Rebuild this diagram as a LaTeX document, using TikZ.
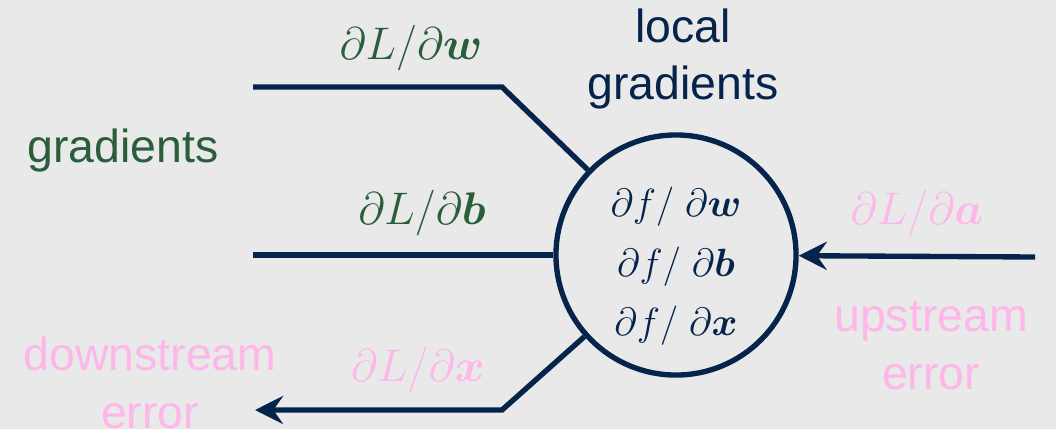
\RequirePackage{fix-cm}
\documentclass[tikz,border=0pt]{standalone}
\usepackage{amsmath,amssymb}
\usepackage{bm}
\usepackage{fontspec}
\setmainfont{Liberation Sans}
\usepackage{tikz}
\usetikzlibrary{positioning,arrows.meta}
\definecolor{navy}{RGB}{5,36,76}
\definecolor{gradgreen}{RGB}{42,94,58}
\definecolor{errpink}{RGB}{255,182,232}
\definecolor{slide}{RGB}{233,233,233}
\tikzset{
  wire/.style={draw=navy, line width=3.8pt},
  backarrow/.style={wire, -{Stealth[length=20pt,width=20pt,inset=7pt]}},
  gatenode/.style={circle, draw=navy, line width=3.8pt, minimum size=6cm, inner sep=0pt},
  word/.style={font=\fontsize{33}{41}\selectfont, align=center},
  deriv/.style={font=\fontsize{32.5}{38}\selectfont},
  localderiv/.style={font=\fontsize{28}{34}\selectfont, text=navy},
}

\begin{document}
\begin{tikzpicture}[x=0.025cm, y=-0.025cm]
  \fill[slide] (0,0) rectangle (1056,429);
  \useasboundingbox (0,0) rectangle (1056,429);

  % the gate and its local derivatives
  \node[gatenode] (gate) at (676,255) {};
  \node[localderiv] (dfdw) at (676,207) {$\partial f/\;\partial\bm{w}$};
  \node[localderiv] (dfdb) at (676,267) {$\partial f/\;\partial\bm{b}$};
  \node[localderiv] (dfdx) at (676,326) {$\partial f/\;\partial\bm{x}$};

  % wire ends
  \coordinate (win)   at (253,87);
  \coordinate (wbend) at (502,87);
  \coordinate (bin)   at (253,255);
  \coordinate (xbend) at (502,410);
  \coordinate (xout)  at (255,410);
  \coordinate (ain)   at (1035,257);

  \draw[wire] (win) -- (wbend) -- (gate);
  \draw[wire] (bin) -- (gate);
  \draw[backarrow] (gate) -- (xbend) -- (xout);
  \draw[backarrow] (ain) -- (gate);

  % labels
  \node[deriv, text=gradgreen] (dLdw) at (411,48)  {$\partial L/\partial\bm{w}$};
  \node[deriv, text=gradgreen] (dLdb) at (422,213) {$\partial L/\partial\bm{b}$};
  \node[deriv, text=errpink]   (dLdx) at (418,370) {$\partial L/\partial\bm{x}$};
  \node[deriv, text=errpink]   (dLda) at (917,213) {$\partial L/\partial\bm{a}$};

  \node[word, text=navy]      (local) at (683,59)  {local\\gradients};
  \node[word, text=gradgreen] (grads) at (123,150) {gradients};
  \node[word, text=errpink]   (up)    at (931,346) {upstream\\error};
  \node[word, text=errpink]   (down)  at (150,383) {downstream\\error};
\end{tikzpicture}
\end{document}
